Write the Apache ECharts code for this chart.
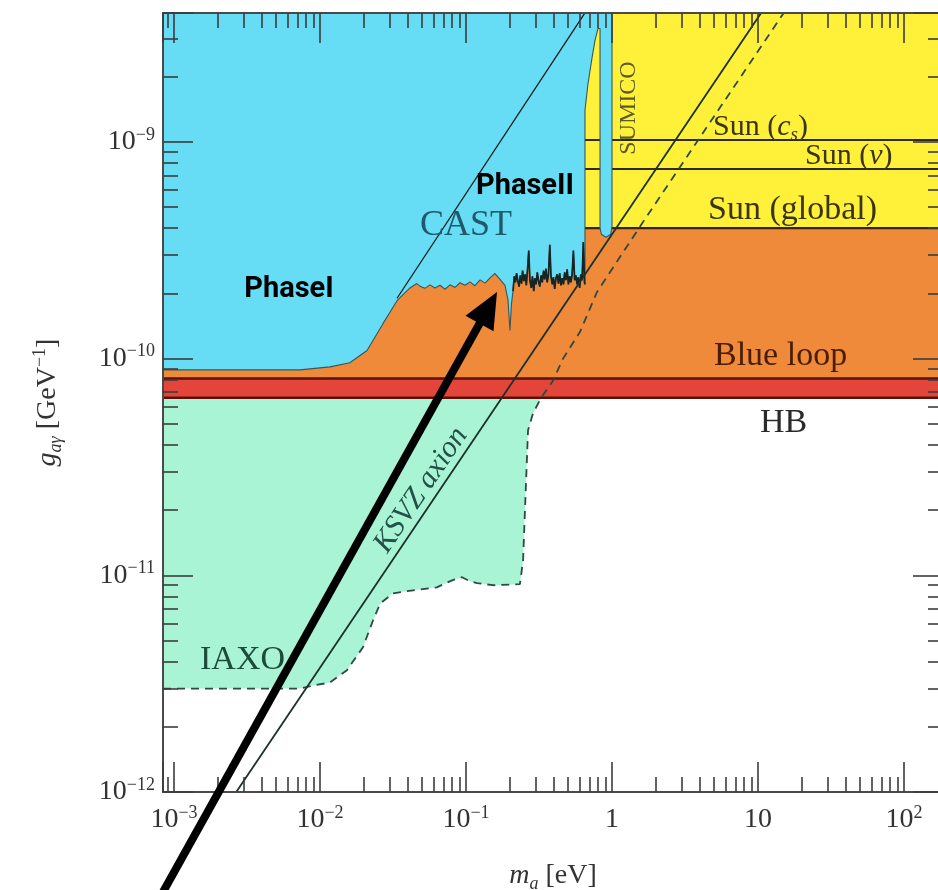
<!DOCTYPE html>
<html><head><meta charset="utf-8">
<script src="https://cdn.jsdelivr.net/npm/echarts@6/dist/echarts.min.js"></script>
<style>html,body{margin:0;padding:0;background:#fff}#c{width:938px;height:890px}</style>
</head><body><div id="c"></div>
<script>
// ---- axis ranges (m_a in eV, g in GeV^-1) ----
const X_MIN = 8.41e-4, X_MAX = 184.9;
const Y_MIN = 1e-12, Y_MAX = 3.936e-9;

// ---- horizontal astrophysical bounds ----
const HB_LOW = 6.6e-11, HB_HIGH = 8.1e-11;
const SUN_CS = 1.02e-9, SUN_NU = 7.5e-10, SUN_GLOBAL = 4.0e-10;
const SUN_M_START = 0.653;

// ---- CAST exclusion limit (m, g): smooth phase I part ----
const CAST_PHASE1 = [
  [8.41e-4, 8.87e-11], [3.3e-3, 8.87e-11], [7.3e-3, 8.87e-11], [1.17e-2, 9.16e-11],
  [1.6e-2, 9.57e-11], [2.1e-2, 1.09e-10], [2.7e-2, 1.45e-10], [3.37e-2, 1.85e-10],
  [4.13e-2, 2.12e-10], [4.6e-2, 2.22e-10], [0.0484, 2.16e-10], [0.0524, 2.11e-10],
  [0.0567, 2.19e-10], [0.0613, 2.12e-10], [0.0664, 2.18e-10], [0.0718, 2.09e-10],
  [0.0777, 2.19e-10], [0.0841, 2.13e-10], [0.0910, 2.24e-10], [0.0985, 2.18e-10],
  [0.1065, 2.26e-10], [0.115, 2.17e-10], [0.125, 2.31e-10], [0.135, 2.23e-10],
  [0.146, 2.36e-10], [0.158, 2.47e-10], [0.171, 2.32e-10], [0.185, 2.18e-10],
  [0.194, 1.86e-10], [0.200, 1.35e-10], [0.205, 1.80e-10]
];
// noisy phase II part
const CAST_PHASE2 = [
  [0.210, 2.05e-10], [0.214, 2.40e-10], [0.218, 2.25e-10], [0.222, 2.48e-10],
  [0.226, 2.30e-10], [0.231, 2.15e-10], [0.235, 2.42e-10], [0.240, 2.22e-10],
  [0.244, 2.55e-10], [0.249, 2.28e-10], [0.254, 2.45e-10], [0.259, 2.18e-10],
  [0.264, 2.60e-10], [0.269, 3.15e-10], [0.274, 2.30e-10], [0.280, 2.12e-10],
  [0.285, 2.40e-10], [0.291, 2.05e-10], [0.296, 2.35e-10], [0.302, 2.20e-10],
  [0.308, 2.50e-10], [0.314, 2.28e-10], [0.320, 2.15e-10], [0.327, 2.42e-10],
  [0.333, 2.25e-10], [0.340, 2.55e-10], [0.346, 2.32e-10], [0.353, 2.60e-10],
  [0.360, 2.25e-10], [0.367, 2.45e-10], [0.375, 3.35e-10], [0.382, 2.40e-10],
  [0.390, 2.20e-10], [0.397, 2.38e-10], [0.405, 2.10e-10], [0.413, 2.35e-10],
  [0.421, 2.45e-10], [0.430, 2.22e-10], [0.438, 2.48e-10], [0.447, 2.18e-10],
  [0.456, 2.35e-10], [0.465, 2.20e-10], [0.474, 2.50e-10], [0.483, 2.30e-10],
  [0.493, 2.58e-10], [0.503, 2.20e-10], [0.513, 2.40e-10], [0.523, 2.25e-10],
  [0.533, 2.45e-10], [0.544, 3.15e-10], [0.555, 2.30e-10], [0.566, 2.42e-10],
  [0.577, 2.20e-10], [0.588, 2.38e-10], [0.600, 2.12e-10], [0.612, 2.45e-10],
  [0.624, 2.30e-10], [0.636, 3.45e-10], [0.648, 2.25e-10], [0.653, 2.20e-10]
];
// high-mass edge of CAST and the SUMICO strip
const CAST_EDGE = [
  [0.653, 1.40e-9], [0.685, 1.86e-9], [0.730, 2.45e-9], [0.765, 2.94e-9], [0.802, 3.34e-9],
  [0.828, 3.34e-9], [0.828, 4.0e-10], [0.845, 3.75e-10], [0.910, 3.63e-10],
  [0.980, 3.75e-10], [1.0, 4.08e-10], [1.0, 3.936e-9]
];

// ---- IAXO sensitivity ----
const IAXO_LOW = [
  [8.41e-4, 3.0e-12], [7.3e-3, 3.0e-12], [8.95e-3, 3.1e-12], [1.17e-2, 3.2e-12],
  [1.53e-2, 3.65e-12], [1.97e-2, 4.66e-12], [2.31e-2, 6.2e-12], [2.58e-2, 7.4e-12],
  [3.16e-2, 8.26e-12], [4.34e-2, 8.53e-12], [6.3e-2, 8.8e-12], [8.1e-2, 9.5e-12],
  [9.4e-2, 9.8e-12], [0.106, 9.4e-12], [0.119, 9.2e-12], [0.153, 9.0e-12],
  [0.234, 9.1e-12], [0.246, 1.17e-11], [0.258, 2.74e-11], [0.266, 4.67e-11],
  [0.288, 5.6e-11], [0.327, 6.6e-11]
];
const IAXO_HIGH = [
  [0.327, 6.6e-11], [0.394, 7.9e-11], [0.462, 1.0e-10], [0.604, 1.33e-10],
  [0.789, 2.03e-10], [1.63, 4.27e-10], [15.0, 3.94e-9]
];

// ---- model / reference lines ----
const KSVZ = [[2.67e-3, 1.0e-12], [10.5, 3.94e-9]];
const CAST_LINE = [[0.0337, 1.9e-10], [0.653, 3.94e-9]];

// ---- styling ----
const YS = 1e12; // y plotted in units of 1e-12 GeV^-1
const SERIF = 'Liberation Serif';
const C = {blue:'#66DCF5', orange:'#EE8A3A', yellow:'#FFF13A', red:'#E4453A', green:'#A9F4D5'};

function sc(points){ return points.map(p => [p[0], p[1]*YS]); }

function area(points, fill, z){
  const data = sc(points);
  return {
    type:'custom', coordinateSystem:'cartesian2d', xAxisIndex:0, yAxisIndex:0,
    silent:true, clip:true, z, data, encode:{x:0, y:1},
    renderItem(params, api){
      if (params.dataIndex !== 0) return null;
      return {type:'polygon', shape:{points: data.map(d => api.coord(d))}, style:{fill}};
    }
  };
}
function curve(points, color, width, z, type){
  return {type:'line', data: sc(points), showSymbol:false, symbol:'none', silent:true,
    clip:true, z, lineStyle:{color, width, type: type || 'solid'}};
}

function expLabel(n){
  if (n === 0) return '{b|1}';
  if (n === 1) return '{b|10}';
  return '{b|10}{s|' + (n < 0 ? '\u2212' : '') + Math.abs(n) + '}';
}
const labelRich = {
  b:{fontFamily:SERIF, fontSize:28, lineHeight:32, color:'#333'},
  s:{fontFamily:SERIF, fontSize:18, lineHeight:18, verticalAlign:'top', color:'#333'}
};

function logAxis(isX, pos, showLabel){
  return {
    type:'log', logBase:10, position:pos, z:20,
    min: isX ? X_MIN : Y_MIN*YS, max: isX ? X_MAX : Y_MAX*YS,
    axisLine:{show:true, onZero:false, lineStyle:{color:'#4a4a4a', width:2}},
    axisTick:{show:true, inside:true, length:30, lineStyle:{color:'#3c3c3c', width:1.6}},
    minorTick:{show:true, splitNumber:9, length:15, lineStyle:{color:'#3c3c3c', width:1.6}},
    splitLine:{show:false}, minorSplitLine:{show:false},
    axisLabel:{show:showLabel, margin: isX ? 12 : 8, rich: labelRich,
      formatter(v){
        const e = Math.log10(v), n = Math.round(e);
        if (Math.abs(e - n) > 1e-6) return '';
        return expLabel(isX ? n : n - 12);
      }}
  };
}

const chart = echarts.init(document.getElementById('c'), null, {renderer:'canvas'});

const nameRich = {
  i:{fontFamily:SERIF, fontStyle:'italic', fontSize:28, lineHeight:34, color:'#333'},
  sub:{fontFamily:SERIF, fontStyle:'italic', fontSize:18, lineHeight:18, verticalAlign:'bottom', color:'#333'},
  n:{fontFamily:SERIF, fontSize:28, lineHeight:34, color:'#333'},
  sup:{fontFamily:SERIF, fontSize:18, lineHeight:18, verticalAlign:'top', color:'#333'}
};
const xMain = logAxis(true, 'bottom', true);
Object.assign(xMain, {name:'{i|m}{sub|a}{n| [eV]}', nameLocation:'middle', nameGap:67,
  nameTextStyle:{rich:nameRich}});
const yMain = logAxis(false, 'left', true);
Object.assign(yMain, {name:'{i|g}{sub|a\u03B3}{n| [GeV}{sup|\u22121}{n|]}', nameLocation:'middle',
  nameRotate:90, nameGap:98, nameTextStyle:{rich:nameRich}});

const CAST_CURVE = CAST_PHASE1.concat(CAST_PHASE2);
const series = [
  area(IAXO_LOW.concat([[X_MIN, HB_LOW]]), C.green, 1),
  area([[X_MIN, HB_HIGH], [X_MAX, HB_HIGH], [X_MAX, SUN_GLOBAL], [X_MIN, SUN_GLOBAL]], C.orange, 2),
  area([[SUN_M_START, SUN_GLOBAL], [X_MAX, SUN_GLOBAL], [X_MAX, Y_MAX], [SUN_M_START, Y_MAX]], C.yellow, 3),
  curve([[SUN_M_START, SUN_CS], [X_MAX, SUN_CS]], '#2e2a10', 2, 4),
  curve([[SUN_M_START, SUN_NU], [X_MAX, SUN_NU]], '#2e2a10', 2, 4),
  curve([[SUN_M_START, SUN_GLOBAL], [X_MAX, SUN_GLOBAL]], '#3a2008', 2.2, 4),
  area([[X_MIN, HB_LOW], [X_MAX, HB_LOW], [X_MAX, HB_HIGH], [X_MIN, HB_HIGH]], C.red, 5),
  curve([[X_MIN, HB_LOW], [X_MAX, HB_LOW]], '#5a1208', 2.5, 6),
  curve([[X_MIN, HB_HIGH], [X_MAX, HB_HIGH]], '#5a1208', 2.5, 6),
  area(CAST_CURVE.concat(CAST_EDGE, [[X_MIN, Y_MAX]]), C.blue, 7),
  curve(CAST_CURVE.concat(CAST_EDGE), '#3a5658', 1.1, 8),
  curve(CAST_PHASE2, '#162424', 1.7, 8),
  curve(IAXO_LOW.concat(IAXO_HIGH.slice(1)), '#2c4a42', 1.8, 9, [8, 6]),
  curve(KSVZ, '#1c302b', 1.8, 9),
  curve(CAST_LINE, '#111', 1.2, 9)
];

function txt(text, x, y, opt){
  return Object.assign({type:'text', x, y, z:50, silent:true,
    style: Object.assign({text, fontFamily:SERIF, fontSize:34, fill:'#2a2a2a',
      align:'center', verticalAlign:'middle'}, opt.style || {})}, opt.el || {});
}
const sunRich = {
  n:{fontFamily:SERIF, fontSize:30, lineHeight:34, fill:'#3a3410'},
  i:{fontFamily:SERIF, fontStyle:'italic', fontSize:30, lineHeight:34, fill:'#3a3410'},
  sub:{fontFamily:SERIF, fontStyle:'italic', fontSize:19, lineHeight:19, verticalAlign:'bottom', fill:'#3a3410'}
};

const graphic = [
  txt('PhaseI', 289, 290, {style:{fontFamily:'Roboto', fontWeight:'bold', fontSize:29, fill:'#000'}}),
  txt('PhaseII', 525, 187, {style:{fontFamily:'Roboto', fontWeight:'bold', fontSize:29, fill:'#000'}}),
  txt('CAST', 466, 226, {style:{fontSize:36, fill:'#1e5a6b'}}),
  txt('SUMICO', 629, 108, {style:{fontSize:24, fill:'#5a5a2a'}, el:{rotation: Math.PI/2}}),
  txt('{n|Sun (}{i|c}{sub|s}{n|)}', 713, 127, {style:{align:'left', rich:sunRich}}),
  txt('{n|Sun (}{i|\u03BD}{n|)}', 805, 156, {style:{align:'left', rich:sunRich}}),
  txt('Sun (global)', 708, 210, {style:{align:'left', fontSize:34, fill:'#3a3410'}}),
  txt('Blue loop', 714, 356, {style:{align:'left', fontSize:34, fill:'#4a1c00'}}),
  txt('HB', 760, 423, {style:{align:'left', fontSize:34, fill:'#2a2a2a'}}),
  txt('IAXO', 200, 660, {style:{align:'left', fontSize:34, fill:'#1e4a3a'}}),
  txt('KSVZ axion', 421, 490, {style:{fontSize:30, fontStyle:'italic', fill:'#235048'}, el:{rotation: 0.976}}),
  // annotation arrow
  {type:'line', z:60, silent:true, shape:{x1:163, y1:892, x2:481, y2:321},
   style:{stroke:'#000', lineWidth:8}},
  {type:'polygon', z:60, silent:true, shape:{points:[[497, 292], [465.5, 315.7], [493.5, 331.3]]},
   style:{fill:'#000'}}
];

chart.setOption({
  animation:false,
  backgroundColor:'#fff',
  grid:{left:163, top:13, width:780, height:779, outerBoundsMode:'none', containLabel:false},
  xAxis:[xMain, logAxis(true, 'top', false)],
  yAxis:[yMain, logAxis(false, 'right', false)],
  series,
  graphic
});
</script></body></html>
